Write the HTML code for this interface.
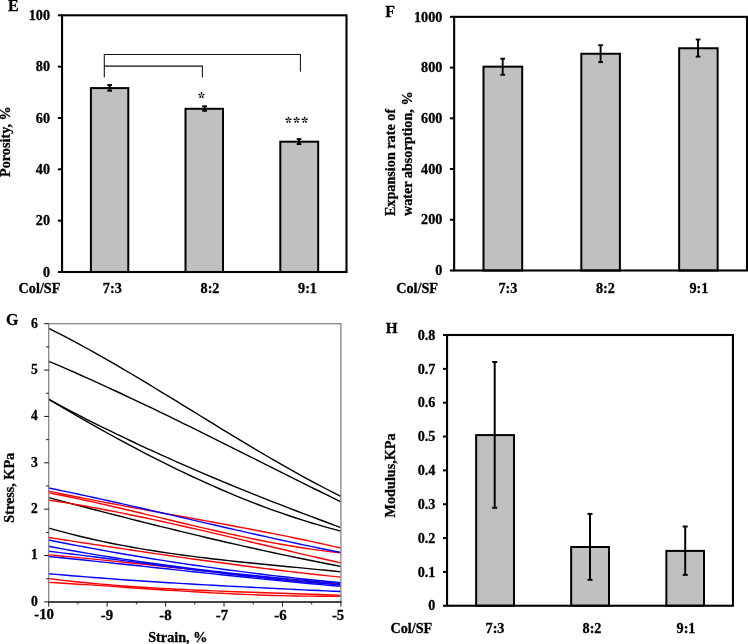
<!DOCTYPE html>
<html><head><meta charset="utf-8"><style>
html,body{margin:0;padding:0;background:#fff;}
svg{display:block;}
text{font-family:"Liberation Serif",serif;font-weight:bold;fill:#000;stroke:#000;stroke-width:0.3px;}
svg{will-change:transform;}
</style></head><body>
<svg width="748" height="644" viewBox="0 0 748 644">
<text x="8.00" y="10.90" text-anchor="start" font-size="16">E</text>
<rect x="90.90" y="88.10" width="37.40" height="183.90" fill="#c0c0c0" stroke="#000" stroke-width="2.0"/>
<rect x="185.50" y="108.80" width="37.50" height="163.20" fill="#c0c0c0" stroke="#000" stroke-width="2.0"/>
<rect x="280.30" y="141.70" width="37.90" height="130.30" fill="#c0c0c0" stroke="#000" stroke-width="2.0"/>
<line x1="109.65" y1="85.00" x2="109.65" y2="90.70" stroke="#000" stroke-width="1.9"/>
<line x1="107.30" y1="85.00" x2="112.00" y2="85.00" stroke="#000" stroke-width="1.9"/>
<line x1="107.30" y1="90.70" x2="112.00" y2="90.70" stroke="#000" stroke-width="1.9"/>
<line x1="204.60" y1="106.30" x2="204.60" y2="110.80" stroke="#000" stroke-width="1.9"/>
<line x1="202.25" y1="106.30" x2="206.95" y2="106.30" stroke="#000" stroke-width="1.9"/>
<line x1="202.25" y1="110.80" x2="206.95" y2="110.80" stroke="#000" stroke-width="1.9"/>
<line x1="299.05" y1="139.10" x2="299.05" y2="144.10" stroke="#000" stroke-width="1.9"/>
<line x1="296.70" y1="139.10" x2="301.40" y2="139.10" stroke="#000" stroke-width="1.9"/>
<line x1="296.70" y1="144.10" x2="301.40" y2="144.10" stroke="#000" stroke-width="1.9"/>
<rect x="62.05" y="15.30" width="284.45" height="256.70" fill="none" stroke="#000" stroke-width="2.1"/>
<line x1="57.90" y1="272.00" x2="62.05" y2="272.00" stroke="#000" stroke-width="2.0"/>
<text x="50.00" y="276.70" text-anchor="end" font-size="14.2">0</text>
<line x1="57.90" y1="220.66" x2="62.05" y2="220.66" stroke="#000" stroke-width="2.0"/>
<text x="50.00" y="225.36" text-anchor="end" font-size="14.2">20</text>
<line x1="57.90" y1="169.32" x2="62.05" y2="169.32" stroke="#000" stroke-width="2.0"/>
<text x="50.00" y="174.02" text-anchor="end" font-size="14.2">40</text>
<line x1="57.90" y1="117.98" x2="62.05" y2="117.98" stroke="#000" stroke-width="2.0"/>
<text x="50.00" y="122.68" text-anchor="end" font-size="14.2">60</text>
<line x1="57.90" y1="66.64" x2="62.05" y2="66.64" stroke="#000" stroke-width="2.0"/>
<text x="50.00" y="71.34" text-anchor="end" font-size="14.2">80</text>
<line x1="57.90" y1="15.30" x2="62.05" y2="15.30" stroke="#000" stroke-width="2.0"/>
<text x="50.00" y="20.00" text-anchor="end" font-size="14.2">100</text>
<polyline points="104.3,77.6 104.3,54.4 300.4,54.4 300.4,71.8" fill="none" stroke="#111" stroke-width="1.05"/>
<polyline points="104.3,66.1 202.4,66.1 202.4,77.6" fill="none" stroke="#111" stroke-width="1.05"/>
<g transform="translate(201.50 95.30)" fill="#000"><path d="M0,0 L-0.45,-1.28 C-1.25,-2.40 -0.7,-3.33 0,-3.20 C0.7,-3.33 1.25,-2.40 0.45,-1.28 Z" transform="rotate(0)"/><path d="M0,0 L-0.45,-1.28 C-1.25,-2.40 -0.7,-3.33 0,-3.20 C0.7,-3.33 1.25,-2.40 0.45,-1.28 Z" transform="rotate(72)"/><path d="M0,0 L-0.45,-1.28 C-1.25,-2.40 -0.7,-3.33 0,-3.20 C0.7,-3.33 1.25,-2.40 0.45,-1.28 Z" transform="rotate(144)"/><path d="M0,0 L-0.45,-1.28 C-1.25,-2.40 -0.7,-3.33 0,-3.20 C0.7,-3.33 1.25,-2.40 0.45,-1.28 Z" transform="rotate(216)"/><path d="M0,0 L-0.45,-1.28 C-1.25,-2.40 -0.7,-3.33 0,-3.20 C0.7,-3.33 1.25,-2.40 0.45,-1.28 Z" transform="rotate(288)"/></g>
<g transform="translate(288.50 119.90)" fill="#000"><path d="M0,0 L-0.45,-1.28 C-1.25,-2.40 -0.7,-3.33 0,-3.20 C0.7,-3.33 1.25,-2.40 0.45,-1.28 Z" transform="rotate(0)"/><path d="M0,0 L-0.45,-1.28 C-1.25,-2.40 -0.7,-3.33 0,-3.20 C0.7,-3.33 1.25,-2.40 0.45,-1.28 Z" transform="rotate(72)"/><path d="M0,0 L-0.45,-1.28 C-1.25,-2.40 -0.7,-3.33 0,-3.20 C0.7,-3.33 1.25,-2.40 0.45,-1.28 Z" transform="rotate(144)"/><path d="M0,0 L-0.45,-1.28 C-1.25,-2.40 -0.7,-3.33 0,-3.20 C0.7,-3.33 1.25,-2.40 0.45,-1.28 Z" transform="rotate(216)"/><path d="M0,0 L-0.45,-1.28 C-1.25,-2.40 -0.7,-3.33 0,-3.20 C0.7,-3.33 1.25,-2.40 0.45,-1.28 Z" transform="rotate(288)"/></g>
<g transform="translate(296.60 119.90)" fill="#000"><path d="M0,0 L-0.45,-1.28 C-1.25,-2.40 -0.7,-3.33 0,-3.20 C0.7,-3.33 1.25,-2.40 0.45,-1.28 Z" transform="rotate(0)"/><path d="M0,0 L-0.45,-1.28 C-1.25,-2.40 -0.7,-3.33 0,-3.20 C0.7,-3.33 1.25,-2.40 0.45,-1.28 Z" transform="rotate(72)"/><path d="M0,0 L-0.45,-1.28 C-1.25,-2.40 -0.7,-3.33 0,-3.20 C0.7,-3.33 1.25,-2.40 0.45,-1.28 Z" transform="rotate(144)"/><path d="M0,0 L-0.45,-1.28 C-1.25,-2.40 -0.7,-3.33 0,-3.20 C0.7,-3.33 1.25,-2.40 0.45,-1.28 Z" transform="rotate(216)"/><path d="M0,0 L-0.45,-1.28 C-1.25,-2.40 -0.7,-3.33 0,-3.20 C0.7,-3.33 1.25,-2.40 0.45,-1.28 Z" transform="rotate(288)"/></g>
<g transform="translate(304.70 119.90)" fill="#000"><path d="M0,0 L-0.45,-1.28 C-1.25,-2.40 -0.7,-3.33 0,-3.20 C0.7,-3.33 1.25,-2.40 0.45,-1.28 Z" transform="rotate(0)"/><path d="M0,0 L-0.45,-1.28 C-1.25,-2.40 -0.7,-3.33 0,-3.20 C0.7,-3.33 1.25,-2.40 0.45,-1.28 Z" transform="rotate(72)"/><path d="M0,0 L-0.45,-1.28 C-1.25,-2.40 -0.7,-3.33 0,-3.20 C0.7,-3.33 1.25,-2.40 0.45,-1.28 Z" transform="rotate(144)"/><path d="M0,0 L-0.45,-1.28 C-1.25,-2.40 -0.7,-3.33 0,-3.20 C0.7,-3.33 1.25,-2.40 0.45,-1.28 Z" transform="rotate(216)"/><path d="M0,0 L-0.45,-1.28 C-1.25,-2.40 -0.7,-3.33 0,-3.20 C0.7,-3.33 1.25,-2.40 0.45,-1.28 Z" transform="rotate(288)"/></g>
<text x="18.60" y="293.30" text-anchor="start" font-size="14.2">Col/SF</text>
<text x="112.30" y="293.20" text-anchor="middle" font-size="14.2">7:3</text>
<text x="210.00" y="293.20" text-anchor="middle" font-size="14.2">8:2</text>
<text x="307.50" y="293.20" text-anchor="middle" font-size="14.2">9:1</text>
<text x="10.20" y="141.60" text-anchor="middle" font-size="14.2" transform="rotate(-90 10.20 141.60)">Porosity, %</text>
<text x="385.30" y="17.40" text-anchor="start" font-size="16">F</text>
<rect x="483.50" y="66.65" width="38.70" height="203.85" fill="#c0c0c0" stroke="#000" stroke-width="2.0"/>
<rect x="581.30" y="53.75" width="38.60" height="216.75" fill="#c0c0c0" stroke="#000" stroke-width="2.0"/>
<rect x="679.15" y="48.25" width="38.50" height="222.25" fill="#c0c0c0" stroke="#000" stroke-width="2.0"/>
<line x1="502.70" y1="58.70" x2="502.70" y2="74.80" stroke="#000" stroke-width="1.9"/>
<line x1="500.35" y1="58.70" x2="505.05" y2="58.70" stroke="#000" stroke-width="1.9"/>
<line x1="500.35" y1="74.80" x2="505.05" y2="74.80" stroke="#000" stroke-width="1.9"/>
<line x1="600.60" y1="45.20" x2="600.60" y2="62.10" stroke="#000" stroke-width="1.9"/>
<line x1="598.25" y1="45.20" x2="602.95" y2="45.20" stroke="#000" stroke-width="1.9"/>
<line x1="598.25" y1="62.10" x2="602.95" y2="62.10" stroke="#000" stroke-width="1.9"/>
<line x1="698.05" y1="39.50" x2="698.05" y2="56.60" stroke="#000" stroke-width="1.9"/>
<line x1="695.70" y1="39.50" x2="700.40" y2="39.50" stroke="#000" stroke-width="1.9"/>
<line x1="695.70" y1="56.60" x2="700.40" y2="56.60" stroke="#000" stroke-width="1.9"/>
<rect x="454.15" y="16.85" width="292.85" height="253.65" fill="none" stroke="#000" stroke-width="2.1"/>
<line x1="449.90" y1="270.50" x2="454.15" y2="270.50" stroke="#000" stroke-width="2.0"/>
<text x="442.40" y="275.20" text-anchor="end" font-size="14.2">0</text>
<line x1="449.90" y1="219.77" x2="454.15" y2="219.77" stroke="#000" stroke-width="2.0"/>
<text x="442.40" y="224.47" text-anchor="end" font-size="14.2">200</text>
<line x1="449.90" y1="169.04" x2="454.15" y2="169.04" stroke="#000" stroke-width="2.0"/>
<text x="442.40" y="173.74" text-anchor="end" font-size="14.2">400</text>
<line x1="449.90" y1="118.31" x2="454.15" y2="118.31" stroke="#000" stroke-width="2.0"/>
<text x="442.40" y="123.01" text-anchor="end" font-size="14.2">600</text>
<line x1="449.90" y1="67.58" x2="454.15" y2="67.58" stroke="#000" stroke-width="2.0"/>
<text x="442.40" y="72.28" text-anchor="end" font-size="14.2">800</text>
<line x1="449.90" y1="16.85" x2="454.15" y2="16.85" stroke="#000" stroke-width="2.0"/>
<text x="442.40" y="21.55" text-anchor="end" font-size="14.2">1000</text>
<text x="396.20" y="293.30" text-anchor="start" font-size="14.2">Col/SF</text>
<text x="507.90" y="293.20" text-anchor="middle" font-size="14.2">7:3</text>
<text x="605.40" y="293.20" text-anchor="middle" font-size="14.2">8:2</text>
<text x="698.90" y="293.20" text-anchor="middle" font-size="14.2">9:1</text>
<text x="394.80" y="216.10" text-anchor="start" font-size="14.2" transform="rotate(-90 394.80 216.10)">Expansion rate of</text>
<text x="411.80" y="216.10" text-anchor="start" font-size="14.2" transform="rotate(-90 411.80 216.10)">water absorption, %</text>
<text x="6.00" y="324.50" text-anchor="start" font-size="16">G</text>
<g fill="none" stroke-width="1.4" stroke-linejoin="round">
<path d="M48.70,328.36 L56.19,332.12 L63.68,335.97 L71.18,339.90 L78.67,343.91 L86.16,348.00 L93.65,352.15 L101.15,356.36 L108.64,360.63 L116.13,364.96 L123.62,369.34 L131.12,373.76 L138.61,378.22 L146.10,382.71 L153.59,387.24 L161.08,391.79 L168.58,396.36 L176.07,400.95 L183.56,405.55 L191.05,410.15 L198.55,414.76 L206.04,419.37 L213.53,423.96 L221.02,428.55 L228.52,433.11 L236.01,437.66 L243.50,442.18 L250.99,446.66 L258.48,451.11 L265.98,455.52 L273.47,459.89 L280.96,464.20 L288.45,468.46 L295.95,472.65 L303.44,476.79 L310.93,480.85 L318.42,484.84 L325.92,488.75 L333.41,492.57 L340.90,496.31" stroke="#000"/>
<path d="M48.70,361.30 L56.19,364.48 L63.68,367.70 L71.18,370.96 L78.67,374.25 L86.16,377.59 L93.65,380.95 L101.15,384.36 L108.64,387.79 L116.13,391.25 L123.62,394.75 L131.12,398.26 L138.61,401.81 L146.10,405.38 L153.59,408.97 L161.08,412.59 L168.58,416.22 L176.07,419.87 L183.56,423.54 L191.05,427.22 L198.55,430.92 L206.04,434.63 L213.53,438.35 L221.02,442.08 L228.52,445.82 L236.01,449.57 L243.50,453.32 L250.99,457.07 L258.48,460.82 L265.98,464.58 L273.47,468.33 L280.96,472.08 L288.45,475.83 L295.95,479.57 L303.44,483.31 L310.93,487.03 L318.42,490.75 L325.92,494.45 L333.41,498.15 L340.90,501.82" stroke="#000"/>
<path d="M48.70,399.47 L56.19,403.47 L63.68,407.42 L71.18,411.33 L78.67,415.19 L86.16,419.01 L93.65,422.78 L101.15,426.51 L108.64,430.19 L116.13,433.84 L123.62,437.44 L131.12,441.00 L138.61,444.52 L146.10,448.01 L153.59,451.45 L161.08,454.86 L168.58,458.23 L176.07,461.56 L183.56,464.87 L191.05,468.13 L198.55,471.37 L206.04,474.57 L213.53,477.74 L221.02,480.87 L228.52,483.98 L236.01,487.06 L243.50,490.11 L250.99,493.14 L258.48,496.13 L265.98,499.10 L273.47,502.05 L280.96,504.97 L288.45,507.86 L295.95,510.74 L303.44,513.59 L310.93,516.42 L318.42,519.23 L325.92,522.02 L333.41,524.79 L340.90,527.55" stroke="#000"/>
<path d="M48.70,399.11 L56.19,403.59 L63.68,408.03 L71.18,412.42 L78.67,416.78 L86.16,421.09 L93.65,425.36 L101.15,429.57 L108.64,433.74 L116.13,437.86 L123.62,441.93 L131.12,445.95 L138.61,449.91 L146.10,453.82 L153.59,457.66 L161.08,461.45 L168.58,465.18 L176.07,468.85 L183.56,472.46 L191.05,476.00 L198.55,479.48 L206.04,482.88 L213.53,486.22 L221.02,489.49 L228.52,492.69 L236.01,495.81 L243.50,498.87 L250.99,501.84 L258.48,504.74 L265.98,507.55 L273.47,510.29 L280.96,512.95 L288.45,515.52 L295.95,518.01 L303.44,520.41 L310.93,522.73 L318.42,524.95 L325.92,527.09 L333.41,529.13 L340.90,531.08" stroke="#000"/>
<path d="M48.70,497.62 L56.19,499.61 L63.68,501.59 L71.18,503.57 L78.67,505.54 L86.16,507.50 L93.65,509.45 L101.15,511.40 L108.64,513.33 L116.13,515.26 L123.62,517.18 L131.12,519.08 L138.61,520.98 L146.10,522.86 L153.59,524.73 L161.08,526.59 L168.58,528.44 L176.07,530.27 L183.56,532.09 L191.05,533.90 L198.55,535.69 L206.04,537.47 L213.53,539.23 L221.02,540.98 L228.52,542.71 L236.01,544.42 L243.50,546.11 L250.99,547.79 L258.48,549.45 L265.98,551.09 L273.47,552.72 L280.96,554.32 L288.45,555.90 L295.95,557.46 L303.44,559.00 L310.93,560.53 L318.42,562.02 L325.92,563.50 L333.41,564.95 L340.90,566.38" stroke="#000"/>
<path d="M48.70,528.06 L56.19,530.17 L63.68,532.19 L71.18,534.13 L78.67,535.99 L86.16,537.78 L93.65,539.48 L101.15,541.12 L108.64,542.69 L116.13,544.20 L123.62,545.64 L131.12,547.01 L138.61,548.34 L146.10,549.60 L153.59,550.81 L161.08,551.98 L168.58,553.09 L176.07,554.17 L183.56,555.19 L191.05,556.18 L198.55,557.14 L206.04,558.06 L213.53,558.95 L221.02,559.80 L228.52,560.64 L236.01,561.45 L243.50,562.24 L250.99,563.01 L258.48,563.77 L265.98,564.51 L273.47,565.24 L280.96,565.97 L288.45,566.69 L295.95,567.41 L303.44,568.13 L310.93,568.86 L318.42,569.59 L325.92,570.32 L333.41,571.07 L340.90,571.84" stroke="#000"/>
<path d="M48.70,491.09 L56.19,492.65 L63.68,494.19 L71.18,495.71 L78.67,497.20 L86.16,498.68 L93.65,500.14 L101.15,501.58 L108.64,503.01 L116.13,504.42 L123.62,505.82 L131.12,507.21 L138.61,508.60 L146.10,509.97 L153.59,511.34 L161.08,512.70 L168.58,514.07 L176.07,515.43 L183.56,516.79 L191.05,518.15 L198.55,519.51 L206.04,520.88 L213.53,522.26 L221.02,523.64 L228.52,525.04 L236.01,526.44 L243.50,527.85 L250.99,529.28 L258.48,530.73 L265.98,532.19 L273.47,533.67 L280.96,535.16 L288.45,536.68 L295.95,538.22 L303.44,539.79 L310.93,541.38 L318.42,543.00 L325.92,544.65 L333.41,546.32 L340.90,548.03" stroke="#ff0000"/>
<path d="M48.70,492.85 L56.19,494.29 L63.68,495.78 L71.18,497.31 L78.67,498.88 L86.16,500.49 L93.65,502.14 L101.15,503.82 L108.64,505.52 L116.13,507.25 L123.62,509.00 L131.12,510.77 L138.61,512.54 L146.10,514.33 L153.59,516.13 L161.08,517.93 L168.58,519.72 L176.07,521.52 L183.56,523.30 L191.05,525.08 L198.55,526.84 L206.04,528.58 L213.53,530.30 L221.02,532.00 L228.52,533.66 L236.01,535.30 L243.50,536.90 L250.99,538.46 L258.48,539.98 L265.98,541.45 L273.47,542.87 L280.96,544.24 L288.45,545.55 L295.95,546.80 L303.44,547.99 L310.93,549.11 L318.42,550.16 L325.92,551.14 L333.41,552.04 L340.90,552.86" stroke="#ff0000"/>
<path d="M48.70,500.07 L56.19,501.23 L63.68,502.43 L71.18,503.67 L78.67,504.96 L86.16,506.28 L93.65,507.64 L101.15,509.03 L108.64,510.46 L116.13,511.92 L123.62,513.42 L131.12,514.94 L138.61,516.49 L146.10,518.06 L153.59,519.66 L161.08,521.28 L168.58,522.93 L176.07,524.59 L183.56,526.27 L191.05,527.97 L198.55,529.68 L206.04,531.41 L213.53,533.14 L221.02,534.89 L228.52,536.65 L236.01,538.41 L243.50,540.18 L250.99,541.95 L258.48,543.72 L265.98,545.49 L273.47,547.27 L280.96,549.04 L288.45,550.80 L295.95,552.56 L303.44,554.31 L310.93,556.06 L318.42,557.79 L325.92,559.51 L333.41,561.21 L340.90,562.90" stroke="#ff0000"/>
<path d="M48.70,537.47 L56.19,538.62 L63.68,539.78 L71.18,540.93 L78.67,542.07 L86.16,543.22 L93.65,544.36 L101.15,545.50 L108.64,546.63 L116.13,547.76 L123.62,548.89 L131.12,550.00 L138.61,551.12 L146.10,552.22 L153.59,553.32 L161.08,554.41 L168.58,555.49 L176.07,556.57 L183.56,557.63 L191.05,558.69 L198.55,559.73 L206.04,560.77 L213.53,561.79 L221.02,562.81 L228.52,563.81 L236.01,564.80 L243.50,565.78 L250.99,566.75 L258.48,567.70 L265.98,568.64 L273.47,569.56 L280.96,570.47 L288.45,571.37 L295.95,572.25 L303.44,573.11 L310.93,573.96 L318.42,574.79 L325.92,575.60 L333.41,576.39 L340.90,577.17" stroke="#ff0000"/>
<path d="M48.70,554.83 L56.19,555.51 L63.68,556.21 L71.18,556.92 L78.67,557.64 L86.16,558.38 L93.65,559.12 L101.15,559.88 L108.64,560.64 L116.13,561.41 L123.62,562.19 L131.12,562.97 L138.61,563.76 L146.10,564.56 L153.59,565.36 L161.08,566.16 L168.58,566.97 L176.07,567.78 L183.56,568.59 L191.05,569.40 L198.55,570.21 L206.04,571.02 L213.53,571.83 L221.02,572.63 L228.52,573.44 L236.01,574.23 L243.50,575.03 L250.99,575.81 L258.48,576.59 L265.98,577.37 L273.47,578.13 L280.96,578.89 L288.45,579.64 L295.95,580.38 L303.44,581.11 L310.93,581.82 L318.42,582.52 L325.92,583.21 L333.41,583.89 L340.90,584.55" stroke="#ff0000"/>
<path d="M48.70,578.61 L56.19,579.52 L63.68,580.39 L71.18,581.22 L78.67,582.00 L86.16,582.75 L93.65,583.46 L101.15,584.13 L108.64,584.77 L116.13,585.37 L123.62,585.94 L131.12,586.48 L138.61,587.00 L146.10,587.48 L153.59,587.94 L161.08,588.37 L168.58,588.79 L176.07,589.18 L183.56,589.55 L191.05,589.90 L198.55,590.23 L206.04,590.55 L213.53,590.86 L221.02,591.15 L228.52,591.43 L236.01,591.70 L243.50,591.97 L250.99,592.22 L258.48,592.48 L265.98,592.72 L273.47,592.97 L280.96,593.22 L288.45,593.47 L295.95,593.72 L303.44,593.97 L310.93,594.23 L318.42,594.50 L325.92,594.77 L333.41,595.06 L340.90,595.35" stroke="#ff0000"/>
<path d="M48.70,582.35 L56.19,582.79 L63.68,583.24 L71.18,583.71 L78.67,584.19 L86.16,584.67 L93.65,585.17 L101.15,585.66 L108.64,586.17 L116.13,586.67 L123.62,587.18 L131.12,587.69 L138.61,588.19 L146.10,588.70 L153.59,589.20 L161.08,589.69 L168.58,590.18 L176.07,590.66 L183.56,591.12 L191.05,591.58 L198.55,592.02 L206.04,592.45 L213.53,592.87 L221.02,593.26 L228.52,593.64 L236.01,594.00 L243.50,594.34 L250.99,594.65 L258.48,594.94 L265.98,595.20 L273.47,595.44 L280.96,595.65 L288.45,595.83 L295.95,595.97 L303.44,596.09 L310.93,596.17 L318.42,596.21 L325.92,596.22 L333.41,596.18 L340.90,596.11" stroke="#ff0000"/>
<path d="M48.70,487.97 L56.19,489.51 L63.68,491.07 L71.18,492.65 L78.67,494.25 L86.16,495.86 L93.65,497.49 L101.15,499.14 L108.64,500.80 L116.13,502.47 L123.62,504.15 L131.12,505.85 L138.61,507.55 L146.10,509.26 L153.59,510.98 L161.08,512.70 L168.58,514.42 L176.07,516.15 L183.56,517.88 L191.05,519.61 L198.55,521.34 L206.04,523.07 L213.53,524.80 L221.02,526.52 L228.52,528.23 L236.01,529.94 L243.50,531.64 L250.99,533.33 L258.48,535.02 L265.98,536.69 L273.47,538.34 L280.96,539.99 L288.45,541.62 L295.95,543.23 L303.44,544.83 L310.93,546.40 L318.42,547.96 L325.92,549.49 L333.41,551.01 L340.90,552.50" stroke="#0000ff"/>
<path d="M48.70,540.04 L56.19,541.53 L63.68,543.01 L71.18,544.46 L78.67,545.89 L86.16,547.29 L93.65,548.68 L101.15,550.04 L108.64,551.38 L116.13,552.70 L123.62,553.99 L131.12,555.27 L138.61,556.52 L146.10,557.75 L153.59,558.96 L161.08,560.15 L168.58,561.32 L176.07,562.47 L183.56,563.60 L191.05,564.71 L198.55,565.80 L206.04,566.86 L213.53,567.91 L221.02,568.94 L228.52,569.95 L236.01,570.93 L243.50,571.90 L250.99,572.85 L258.48,573.78 L265.98,574.70 L273.47,575.59 L280.96,576.46 L288.45,577.32 L295.95,578.16 L303.44,578.97 L310.93,579.77 L318.42,580.56 L325.92,581.32 L333.41,582.07 L340.90,582.80" stroke="#0000ff"/>
<path d="M48.70,546.31 L56.19,547.72 L63.68,549.11 L71.18,550.46 L78.67,551.78 L86.16,553.08 L93.65,554.34 L101.15,555.58 L108.64,556.79 L116.13,557.97 L123.62,559.13 L131.12,560.26 L138.61,561.37 L146.10,562.45 L153.59,563.51 L161.08,564.54 L168.58,565.55 L176.07,566.54 L183.56,567.50 L191.05,568.44 L198.55,569.36 L206.04,570.26 L213.53,571.14 L221.02,572.00 L228.52,572.84 L236.01,573.66 L243.50,574.47 L250.99,575.25 L258.48,576.02 L265.98,576.77 L273.47,577.50 L280.96,578.22 L288.45,578.92 L295.95,579.60 L303.44,580.28 L310.93,580.93 L318.42,581.58 L325.92,582.21 L333.41,582.83 L340.90,583.43" stroke="#0000ff"/>
<path d="M48.70,551.28 L56.19,552.17 L63.68,553.07 L71.18,553.98 L78.67,554.91 L86.16,555.85 L93.65,556.79 L101.15,557.75 L108.64,558.71 L116.13,559.67 L123.62,560.64 L131.12,561.62 L138.61,562.59 L146.10,563.56 L153.59,564.54 L161.08,565.51 L168.58,566.48 L176.07,567.44 L183.56,568.40 L191.05,569.35 L198.55,570.29 L206.04,571.22 L213.53,572.14 L221.02,573.05 L228.52,573.95 L236.01,574.83 L243.50,575.69 L250.99,576.54 L258.48,577.37 L265.98,578.18 L273.47,578.97 L280.96,579.74 L288.45,580.49 L295.95,581.21 L303.44,581.90 L310.93,582.57 L318.42,583.21 L325.92,583.82 L333.41,584.40 L340.90,584.95" stroke="#0000ff"/>
<path d="M48.70,556.59 L56.19,557.32 L63.68,558.05 L71.18,558.80 L78.67,559.55 L86.16,560.31 L93.65,561.08 L101.15,561.86 L108.64,562.64 L116.13,563.43 L123.62,564.22 L131.12,565.02 L138.61,565.82 L146.10,566.63 L153.59,567.43 L161.08,568.24 L168.58,569.05 L176.07,569.86 L183.56,570.67 L191.05,571.48 L198.55,572.28 L206.04,573.09 L213.53,573.89 L221.02,574.69 L228.52,575.48 L236.01,576.27 L243.50,577.05 L250.99,577.83 L258.48,578.60 L265.98,579.36 L273.47,580.11 L280.96,580.86 L288.45,581.59 L295.95,582.31 L303.44,583.03 L310.93,583.73 L318.42,584.42 L325.92,585.10 L333.41,585.76 L340.90,586.41" stroke="#0000ff"/>
<path d="M48.70,573.73 L56.19,574.40 L63.68,575.05 L71.18,575.68 L78.67,576.30 L86.16,576.91 L93.65,577.49 L101.15,578.07 L108.64,578.63 L116.13,579.18 L123.62,579.72 L131.12,580.24 L138.61,580.75 L146.10,581.25 L153.59,581.74 L161.08,582.22 L168.58,582.69 L176.07,583.15 L183.56,583.60 L191.05,584.04 L198.55,584.47 L206.04,584.89 L213.53,585.31 L221.02,585.71 L228.52,586.11 L236.01,586.51 L243.50,586.90 L250.99,587.28 L258.48,587.66 L265.98,588.03 L273.47,588.39 L280.96,588.76 L288.45,589.12 L295.95,589.47 L303.44,589.83 L310.93,590.18 L318.42,590.52 L325.92,590.87 L333.41,591.22 L340.90,591.56" stroke="#0000ff"/>
</g>
<rect x="48.70" y="323.70" width="292.20" height="278.20" fill="none" stroke="#868686" stroke-width="1.3"/>
<line x1="48.10" y1="601.90" x2="341.50" y2="601.90" stroke="#464646" stroke-width="2.0"/>
<line x1="44.20" y1="601.90" x2="48.70" y2="601.90" stroke="#111" stroke-width="1.0"/>
<text x="37.90" y="605.70" text-anchor="end" font-size="13.6">0</text>
<line x1="44.20" y1="555.53" x2="48.70" y2="555.53" stroke="#111" stroke-width="1.0"/>
<text x="37.90" y="559.33" text-anchor="end" font-size="13.6">1</text>
<line x1="44.20" y1="509.17" x2="48.70" y2="509.17" stroke="#111" stroke-width="1.0"/>
<text x="37.90" y="512.97" text-anchor="end" font-size="13.6">2</text>
<line x1="44.20" y1="462.80" x2="48.70" y2="462.80" stroke="#111" stroke-width="1.0"/>
<text x="37.90" y="466.60" text-anchor="end" font-size="13.6">3</text>
<line x1="44.20" y1="416.43" x2="48.70" y2="416.43" stroke="#111" stroke-width="1.0"/>
<text x="37.90" y="420.23" text-anchor="end" font-size="13.6">4</text>
<line x1="44.20" y1="370.07" x2="48.70" y2="370.07" stroke="#111" stroke-width="1.0"/>
<text x="37.90" y="373.87" text-anchor="end" font-size="13.6">5</text>
<line x1="44.20" y1="323.70" x2="48.70" y2="323.70" stroke="#111" stroke-width="1.0"/>
<text x="37.90" y="327.50" text-anchor="end" font-size="13.6">6</text>
<line x1="46.20" y1="578.72" x2="48.70" y2="578.72" stroke="#111" stroke-width="1.0"/>
<line x1="46.20" y1="532.35" x2="48.70" y2="532.35" stroke="#111" stroke-width="1.0"/>
<line x1="46.20" y1="485.98" x2="48.70" y2="485.98" stroke="#111" stroke-width="1.0"/>
<line x1="46.20" y1="439.62" x2="48.70" y2="439.62" stroke="#111" stroke-width="1.0"/>
<line x1="46.20" y1="393.25" x2="48.70" y2="393.25" stroke="#111" stroke-width="1.0"/>
<line x1="46.20" y1="346.88" x2="48.70" y2="346.88" stroke="#111" stroke-width="1.0"/>
<line x1="48.70" y1="601.90" x2="48.70" y2="606.70" stroke="#222" stroke-width="1.0"/>
<text x="44.15" y="619.00" text-anchor="middle" font-size="14.8">-10</text>
<line x1="107.14" y1="601.90" x2="107.14" y2="606.70" stroke="#222" stroke-width="1.0"/>
<text x="107.00" y="620.30" text-anchor="middle" font-size="14.8">-9</text>
<line x1="165.58" y1="601.90" x2="165.58" y2="606.70" stroke="#222" stroke-width="1.0"/>
<text x="165.50" y="620.30" text-anchor="middle" font-size="14.8">-8</text>
<line x1="224.02" y1="601.90" x2="224.02" y2="606.70" stroke="#222" stroke-width="1.0"/>
<text x="221.90" y="620.30" text-anchor="middle" font-size="14.8">-7</text>
<line x1="282.46" y1="601.90" x2="282.46" y2="606.70" stroke="#222" stroke-width="1.0"/>
<text x="280.50" y="620.30" text-anchor="middle" font-size="14.8">-6</text>
<line x1="340.90" y1="601.90" x2="340.90" y2="606.70" stroke="#222" stroke-width="1.0"/>
<text x="338.10" y="620.30" text-anchor="middle" font-size="14.8">-5</text>
<line x1="77.92" y1="601.90" x2="77.92" y2="604.40" stroke="#222" stroke-width="1.0"/>
<line x1="136.36" y1="601.90" x2="136.36" y2="604.40" stroke="#222" stroke-width="1.0"/>
<line x1="194.80" y1="601.90" x2="194.80" y2="604.40" stroke="#222" stroke-width="1.0"/>
<line x1="253.24" y1="601.90" x2="253.24" y2="604.40" stroke="#222" stroke-width="1.0"/>
<line x1="311.68" y1="601.90" x2="311.68" y2="604.40" stroke="#222" stroke-width="1.0"/>
<text x="177.80" y="641.80" text-anchor="middle" font-size="14.2">Strain, %</text>
<text x="14.20" y="487.80" text-anchor="middle" font-size="14.2" transform="rotate(-90 14.20 487.80)">Stress, KPa</text>
<text x="385.70" y="332.80" text-anchor="start" font-size="15.2">H</text>
<rect x="476.15" y="435.10" width="37.85" height="170.65" fill="#c0c0c0" stroke="#000" stroke-width="2.0"/>
<rect x="571.15" y="547.00" width="37.85" height="58.75" fill="#c0c0c0" stroke="#000" stroke-width="2.0"/>
<rect x="666.35" y="550.90" width="37.65" height="54.85" fill="#c0c0c0" stroke="#000" stroke-width="2.0"/>
<line x1="494.70" y1="362.00" x2="494.70" y2="507.80" stroke="#000" stroke-width="2.0"/>
<line x1="492.20" y1="362.00" x2="497.20" y2="362.00" stroke="#000" stroke-width="2.0"/>
<line x1="492.20" y1="507.80" x2="497.20" y2="507.80" stroke="#000" stroke-width="2.0"/>
<line x1="590.00" y1="513.90" x2="590.00" y2="579.80" stroke="#000" stroke-width="2.0"/>
<line x1="587.50" y1="513.90" x2="592.50" y2="513.90" stroke="#000" stroke-width="2.0"/>
<line x1="587.50" y1="579.80" x2="592.50" y2="579.80" stroke="#000" stroke-width="2.0"/>
<line x1="685.20" y1="526.50" x2="685.20" y2="574.90" stroke="#000" stroke-width="2.0"/>
<line x1="682.70" y1="526.50" x2="687.70" y2="526.50" stroke="#000" stroke-width="2.0"/>
<line x1="682.70" y1="574.90" x2="687.70" y2="574.90" stroke="#000" stroke-width="2.0"/>
<rect x="447.05" y="335.00" width="285.90" height="270.75" fill="none" stroke="#000" stroke-width="2.1"/>
<line x1="443.00" y1="605.75" x2="447.05" y2="605.75" stroke="#000" stroke-width="2.0"/>
<text x="435.40" y="610.45" text-anchor="end" font-size="14.2">0</text>
<line x1="443.00" y1="571.91" x2="447.05" y2="571.91" stroke="#000" stroke-width="2.0"/>
<text x="435.40" y="576.61" text-anchor="end" font-size="14.2">0.1</text>
<line x1="443.00" y1="538.06" x2="447.05" y2="538.06" stroke="#000" stroke-width="2.0"/>
<text x="435.40" y="542.76" text-anchor="end" font-size="14.2">0.2</text>
<line x1="443.00" y1="504.22" x2="447.05" y2="504.22" stroke="#000" stroke-width="2.0"/>
<text x="435.40" y="508.92" text-anchor="end" font-size="14.2">0.3</text>
<line x1="443.00" y1="470.38" x2="447.05" y2="470.38" stroke="#000" stroke-width="2.0"/>
<text x="435.40" y="475.07" text-anchor="end" font-size="14.2">0.4</text>
<line x1="443.00" y1="436.53" x2="447.05" y2="436.53" stroke="#000" stroke-width="2.0"/>
<text x="435.40" y="441.23" text-anchor="end" font-size="14.2">0.5</text>
<line x1="443.00" y1="402.69" x2="447.05" y2="402.69" stroke="#000" stroke-width="2.0"/>
<text x="435.40" y="407.39" text-anchor="end" font-size="14.2">0.6</text>
<line x1="443.00" y1="368.84" x2="447.05" y2="368.84" stroke="#000" stroke-width="2.0"/>
<text x="435.40" y="373.54" text-anchor="end" font-size="14.2">0.7</text>
<line x1="443.00" y1="335.00" x2="447.05" y2="335.00" stroke="#000" stroke-width="2.0"/>
<text x="435.40" y="339.70" text-anchor="end" font-size="14.2">0.8</text>
<text x="390.50" y="632.60" text-anchor="start" font-size="14.2">Col/SF</text>
<text x="495.00" y="632.70" text-anchor="middle" font-size="14.2">7:3</text>
<text x="592.00" y="632.70" text-anchor="middle" font-size="14.2">8:2</text>
<text x="686.00" y="632.70" text-anchor="middle" font-size="14.2">9:1</text>
<text x="395.50" y="475.40" text-anchor="middle" font-size="14.2" transform="rotate(-90 395.50 475.40)">Modulus,KPa</text>
</svg>
</body></html>
